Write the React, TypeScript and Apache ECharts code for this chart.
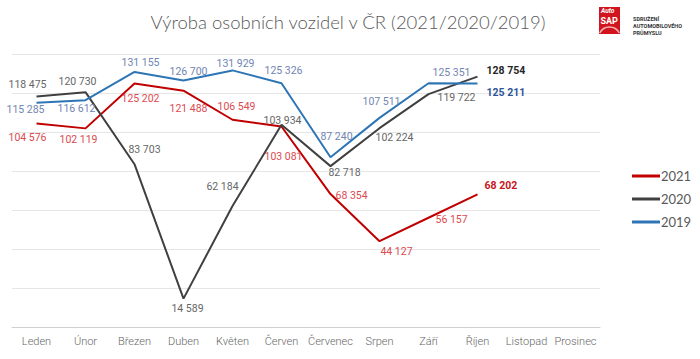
import React, { useEffect, useRef } from "react";
import * as echarts from "echarts";

const months = ["Leden", "Únor", "Březen", "Duben", "Květen", "Červen", "Červenec", "Srpen", "Září", "Říjen", "Listopad", "Prosinec"];
const v2021 = [104576, 102119, 125202, 121488, 106549, 103081, 68354, 44127, 56157, 68202, null, null];
const v2020 = [118475, 120730, 83703, 14589, 62184, 103934, 82718, 102224, 119722, 128754, null, null];
const v2019 = [115285, 116612, 131155, 126700, 131929, 125326, 87240, 107511, 125351, 125211, null, null];

// label placement per point: [position, dx, dy]
const pos2021: [string, number, number][] = [
  ["bottom", -9, 3], ["bottom", -7, 1], ["bottom", 6, 5], ["bottom", 5, 7], ["top", 4, -3],
  ["bottom", 2, 19], ["right", 0, 1], ["bottom", 17, 0], ["right", 2, 2], ["right", 2, -9],
];
const pos2020: [string, number, number][] = [
  ["top", -9, -2], ["top", -8, 0], ["top", 10, -4], ["bottom", 4, -1], ["top", -10, -9],
  ["top", 1, 6], ["bottom", 14, -4], ["bottom", 15, -1], ["right", 4, 3], ["right", 4, -6],
];
const pos2019: [string, number, number][] = [
  ["bottom", -11, -4], ["bottom", -9, -2], ["top", 6, 1], ["top", 5, 1], ["top", 3, 4],
  ["top", 2, -2], ["top", 6, -10], ["top", 2, -6], ["top", 23, 0], ["right", 4, 9],
];

const fmt = (v: number) => String(v).replace(/\B(?=(\d{3})+(?!\d))/g, " ");

function build(vals: (number | null)[], pos: [string, number, number][], color: string, lastColor: string) {
  return vals.map((v, i) => {
    if (v == null) return null;
    const p = pos[i];
    const last = i === pos.length - 1;
    return {
      value: v,
      label: {
        show: true,
        position: p[0],
        distance: 5,
        color: last ? lastColor : color,
        fontWeight: last ? "bold" : "normal",
        fontSize: 10.5,
        fontFamily: "Roboto",
        formatter: fmt(v),
      },
    };
  });
}

function lineSeries(name: string, data: any[], color: string, pos: [string, number, number][]) {
  return {
    name,
    type: "line",
    data,
    symbol: "circle",
    symbolSize: 0,
    showSymbol: true,
    lineStyle: { color, width: 2 },
    itemStyle: { color },
    labelLayout: (params: any) => {
      const p = pos[params.dataIndex];
      if (!p) return {};
      return { dx: p[1], dy: p[2], hideOverlap: false };
    },
  };
}

export default function App() {
  const ref = useRef<HTMLDivElement>(null);
  useEffect(() => {
    document.body.style.margin = "0";
    const chart = echarts.init(ref.current!, undefined, { renderer: "svg" });
    chart.setOption({
      animation: false,
      backgroundColor: "#ffffff",
      grid: { left: 12, right: 100, top: 54.7, bottom: 32 },
      xAxis: {
        type: "category",
        data: months,
        boundaryGap: true,
        axisLine: { lineStyle: { color: "#D0D0D0", width: 1 } },
        axisTick: { show: false },
        axisLabel: { color: "#666666", fontSize: 11, fontFamily: "Roboto", fontWeight: 300, margin: 9, interval: 0 },
      },
      yAxis: {
        type: "value",
        min: 0,
        max: 140000,
        interval: 20000,
        axisLabel: { show: false },
        axisLine: { show: false },
        axisTick: { show: false },
        splitLine: { lineStyle: { color: "#E6E6E6", width: 1 } },
      },
      legend: {
        orient: "vertical",
        left: 627,
        top: 164,
        itemWidth: 28,
        itemHeight: 3,
        itemGap: 9,
        icon: "rect",
        textStyle: { color: "#595959", fontSize: 13, fontFamily: "Lato", lineHeight: 14, padding: [0, 0, 0, -4] },
        data: ["2021", "2020", "2019"],
      },
      graphic: [
        {
          type: "text",
          x: 348,
          y: 22,
          style: {
            text: "Výroba osobních vozidel v ČR (2021/2020/2019)",
            fill: "#595959",
            font: "300 18.5px Lato",
            textAlign: "center",
            textVerticalAlign: "middle",
          },
        },
        {
          type: "rect",
          shape: { x: 599, y: 7, width: 21, height: 27 },
          style: { fill: "#D2141E" },
        },
        {
          type: "text",
          x: 601,
          y: 7.5,
          style: { text: "Auto", fill: "#fff", font: "italic bold 6.5px Roboto" },
        },
        {
          type: "text",
          x: 600.5,
          y: 16,
          style: { text: "SAP", fill: "#fff", font: "bold 9px Roboto" },
        },
        {
          type: "arc",
          shape: { cx: 609.5, cy: 38, r: 11, startAngle: Math.PI * 1.15, endAngle: Math.PI * 1.85 },
          style: { stroke: "#F2B5B8", lineWidth: 1.5, fill: "none" },
        },
        {
          type: "text",
          x: 633,
          y: 15.5,
          style: { text: "SDRUŽENÍ", fill: "#333", font: "bold 5.5px Roboto" },
        },
        {
          type: "text",
          x: 633,
          y: 22.5,
          style: { text: "AUTOMOBILOVÉHO", fill: "#333", font: "bold 5.5px Roboto" },
        },
        {
          type: "text",
          x: 633,
          y: 29.5,
          style: { text: "PRŮMYSLU", fill: "#333", font: "bold 5.5px Roboto" },
        },
      ],
      series: [
        lineSeries("2021", build(v2021, pos2021, "#DC4A50", "#C8161D"), "#C00000", pos2021),
        lineSeries("2020", build(v2020, pos2020, "#666666", "#262626"), "#404040", pos2020),
        lineSeries("2019", build(v2019, pos2019, "#7185B2", "#2F5597"), "#2E75B6", pos2019),
      ],
    });
    return () => chart.dispose();
  }, []);
  return <div ref={ref} style={{ width: 700, height: 359 }} />;
}
